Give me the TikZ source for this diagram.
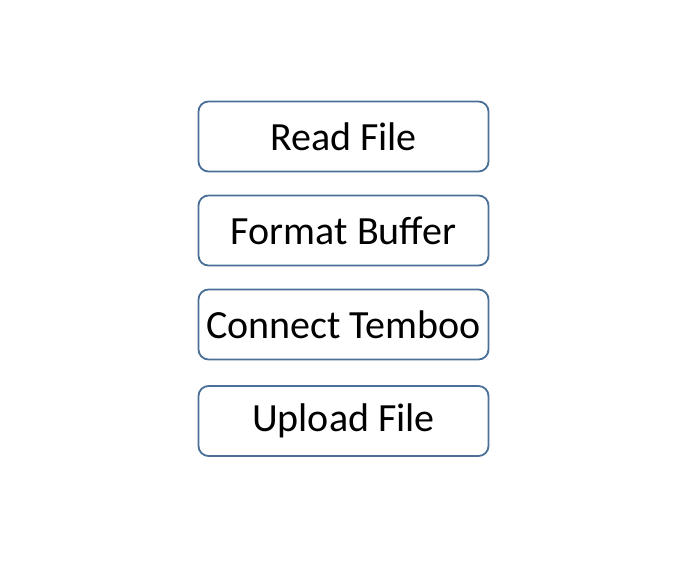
\documentclass[tikz,border=0pt]{standalone}
\usepackage{fontspec}
\setmainfont{Carlito}
\definecolor{boxline}{RGB}{74,112,152}
\begin{document}
\begin{tikzpicture}[x=1pt,y=1pt,
  stepbox/.style={draw=boxline,line width=1.8pt,rounded corners=10pt,minimum width=290pt,minimum height=70pt,inner sep=0pt,font=\fontsize{40}{44}\selectfont,fill=white}]
\useasboundingbox (0,0) rectangle (696,561);
\node[stepbox] (read) at (343.5,424.5) {Read File};
\node[stepbox] (format) at (343.5,330.5) {Format Buffer};
\node[stepbox] (connect) at (343.5,236.5) {Connect Temboo};
\node[stepbox] (upload) at (343.5,140) {Upload File};
\end{tikzpicture}
\end{document}
